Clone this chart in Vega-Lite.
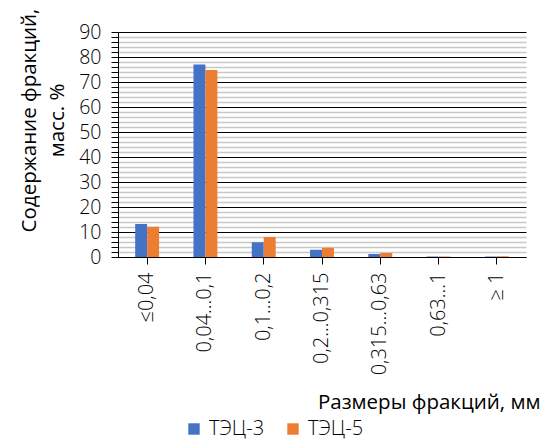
{
  "$schema": "https://vega.github.io/schema/vega-lite/v6.json",
  "width": 408,
  "height": 225,
  "autosize": {"type": "none"},
  "padding": {"left": 118, "top": 32, "right": 19, "bottom": 184},
  "background": "white",
  "data": {
    "values": [
      {"fraction": "≤0,04", "series": "ТЭЦ-3", "value": 13.2},
      {"fraction": "≤0,04", "series": "ТЭЦ-5", "value": 12.1},
      {"fraction": "0,04...0,1", "series": "ТЭЦ-3", "value": 77.0},
      {"fraction": "0,04...0,1", "series": "ТЭЦ-5", "value": 74.8},
      {"fraction": "0,1...0,2", "series": "ТЭЦ-3", "value": 5.9},
      {"fraction": "0,1...0,2", "series": "ТЭЦ-5", "value": 8.0},
      {"fraction": "0,2...0,315", "series": "ТЭЦ-3", "value": 2.9},
      {"fraction": "0,2...0,315", "series": "ТЭЦ-5", "value": 3.7},
      {"fraction": "0,315...0,63", "series": "ТЭЦ-3", "value": 1.2},
      {"fraction": "0,315...0,63", "series": "ТЭЦ-5", "value": 1.6},
      {"fraction": "0,63...1", "series": "ТЭЦ-3", "value": 0.2},
      {"fraction": "0,63...1", "series": "ТЭЦ-5", "value": 0.2},
      {"fraction": "≥ 1", "series": "ТЭЦ-3", "value": 0.2},
      {"fraction": "≥ 1", "series": "ТЭЦ-5", "value": 0.3}
    ]
  },
  "config": {
    "font": "Open Sans",
    "view": {"stroke": null}
  },
  "mark": {"type": "bar"},
  "encoding": {
    "x": {
      "field": "fraction",
      "type": "nominal",
      "sort": null,
      "scale": {"paddingInner": 0.59, "paddingOuter": 0.295},
      "axis": {
        "title": "Размеры фракций, мм",
        "titleFont": "Open Sans",
        "titleFontSize": 20.5,
        "titleFontWeight": 500,
        "titleColor": "black",
        "titleAlign": "right",
        "titleAnchor": "end",
        "titleX": 422,
        "titleY": 145,
        "titleBaseline": "middle",
        "labelAngle": 270,
        "labelAlign": "right",
        "labelBaseline": "middle",
        "labelFontSize": 20,
        "labelFontWeight": 300,
        "labelColor": "black",
        "labelPadding": 8,
        "domainColor": "black",
        "domainWidth": 1,
        "tickColor": "black",
        "tickSize": 7,
        "grid": false
      }
    },
    "xOffset": {"field": "series", "type": "nominal", "scale": {"paddingInner": 0, "paddingOuter": 0}},
    "y": {
      "field": "value",
      "type": "quantitative",
      "scale": {"domain": [0, 90], "nice": false},
      "axis": {
        "title": ["Содержание фракций,", "масс. %"],
        "titleFont": "Open Sans",
        "titleFontSize": 20.5,
        "titleFontWeight": 500,
        "titleColor": "black",
        "titleLineHeight": 28,
        "titleX": -89,
        "titleY": 88,
        "titleBaseline": "middle",
        "titleAlign": "center",
        "values": [0,2,4,6,8,10,12,14,16,18,20,22,24,26,28,30,32,34,36,38,40,42,44,46,48,50,52,54,56,58,60,62,64,66,68,70,72,74,76,78,80,82,84,86,88,90],
        "labelExpr": "datum.value % 10 === 0 ? datum.value : ''",
        "labelFontSize": 19.5,
        "labelFontWeight": 300,
        "labelColor": "black",
        "labelPadding": 10,
        "grid": true,
        "gridColor": {"condition": {"test": "datum.value % 10 === 0", "value": "black"}, "value": "#c8c8c8"},
        "gridWidth": {"condition": {"test": "datum.value % 10 === 0", "value": 1}, "value": 1.5},
        "domainColor": "black",
        "tickColor": "black",
        "tickSize": 7,
        "tickWidth": 1
      }
    },
    "color": {
      "field": "series",
      "type": "nominal",
      "scale": {"domain": ["ТЭЦ-3", "ТЭЦ-5"], "range": ["#4472C4", "#ED7D31"]},
      "legend": {
        "title": null,
        "orient": "none",
        "direction": "horizontal",
        "legendX": 66,
        "legendY": 387,
        "symbolType": "square",
        "symbolSize": 130,
        "symbolStrokeWidth": 0,
        "labelFontSize": 20,
        "labelFontWeight": 300,
        "labelColor": "black",
        "columnPadding": 18,
        "labelOffset": 5
      }
    }
  }
}
